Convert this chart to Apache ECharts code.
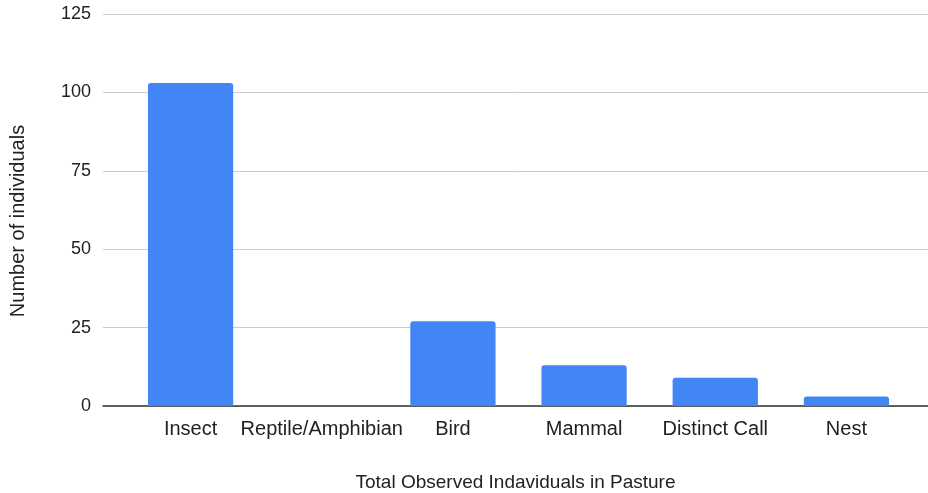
<!DOCTYPE html>
<html>
<head>
<meta charset="utf-8">
<script src="https://cdn.jsdelivr.net/npm/echarts@6/dist/echarts.min.js"></script>
<style>html,body{margin:0;padding:0;background:#fff}#c{width:928px;height:493px}</style>
</head>
<body>
<div id="c"></div>
<script>
const categories = ['Insect', 'Reptile/Amphibian', 'Bird', 'Mammal', 'Distinct Call', 'Nest'];
const values = [103, 0, 27, 13, 9, 3];
const yTicks = [0, 25, 50, 75, 100, 125];
const xTitle = 'Total Observed Indaviduals in Pasture';
const yTitle = 'Number of individuals';

const font = 'Liberation Sans, Arial, sans-serif';
const chart = echarts.init(document.getElementById('c'), null, {renderer: 'canvas'});
chart.setOption({
  animation: false,
  backgroundColor: '#fff',
  grid: [
    {left: 125, right: 16, top: 14, bottom: 87, containLabel: false, outerBoundsMode: 'none'},
    {left: 103, right: 0, top: 14, bottom: 87, containLabel: false, outerBoundsMode: 'none'}
  ],
  xAxis: [
    {
      type: 'category', gridIndex: 0, data: categories,
      axisLine: {show: false}, axisTick: {show: false},
      axisLabel: {color: '#222', fontSize: 20, fontFamily: font, margin: 13, interval: 0}
    },
    {
      type: 'value', gridIndex: 1, min: 0, max: 1,
      axisLine: {show: true, onZero: false, lineStyle: {color: '#333', width: 1.5}},
      axisTick: {show: false}, axisLabel: {show: false}, splitLine: {show: false},
      name: xTitle, nameLocation: 'middle', nameGap: 67,
      nameTextStyle: {color: '#222', fontSize: 19, fontFamily: font}
    }
  ],
  yAxis: [
    {
      type: 'value', gridIndex: 0, min: yTicks[0], max: yTicks[yTicks.length - 1], interval: 25,
      show: false
    },
    {
      type: 'value', gridIndex: 1, min: yTicks[0], max: yTicks[yTicks.length - 1], interval: 25,
      axisLine: {show: false}, axisTick: {show: false},
      axisLabel: {color: '#222', fontSize: 18, fontFamily: font, margin: 12},
      splitLine: {lineStyle: {color: '#cccccc', width: 1}},
      name: yTitle, nameLocation: 'middle', nameGap: 75,
      nameTextStyle: {color: '#222', fontSize: 20, fontFamily: font, padding: [0, 22, 0, 0]}
    }
  ],
  series: [{
    type: 'bar', xAxisIndex: 0, yAxisIndex: 0,
    data: values, barWidth: '65%',
    itemStyle: {color: '#4285F4', borderRadius: [3, 3, 0, 0]}
  }]
});
</script>
</body>
</html>
